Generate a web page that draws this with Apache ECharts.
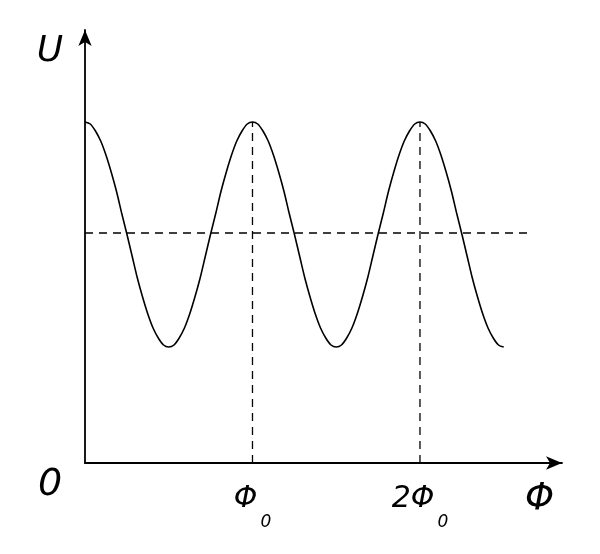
<!DOCTYPE html>
<html>
<head>
<meta charset="utf-8">
<script src="https://cdn.jsdelivr.net/npm/echarts@6/dist/echarts.min.js"></script>
<style>
html,body{margin:0;padding:0;background:#fff;}
#c{width:600px;height:554px;}
</style>
</head>
<body>
<div id="c"></div>
<script>
// Flux (in units of Φ0) and voltage U (arbitrary units)
const phi = [0,0.03125,0.0625,0.09375,0.125,0.15625,0.1875,0.21875,0.25,0.28125,0.3125,0.34375,0.375,0.40625,0.4375,0.46875,
  0.5,0.53125,0.5625,0.59375,0.625,0.65625,0.6875,0.71875,0.75,0.78125,0.8125,0.84375,0.875,0.90625,0.9375,0.96875,
  1,1.03125,1.0625,1.09375,1.125,1.15625,1.1875,1.21875,1.25,1.28125,1.3125,1.34375,1.375,1.40625,1.4375,1.46875,
  1.5,1.53125,1.5625,1.59375,1.625,1.65625,1.6875,1.71875,1.75,1.78125,1.8125,1.84375,1.875,1.90625,1.9375,1.96875,
  2,2.03125,2.0625,2.09375,2.125,2.15625,2.1875,2.21875,2.25,2.28125,2.3125,2.34375,2.375,2.40625,2.4375,2.46875,2.5];
const u = [3.41,3.39,3.32,3.22,3.08,2.91,2.72,2.50,2.29,2.07,1.85,1.66,1.49,1.35,1.25,1.18,
  1.16,1.18,1.25,1.35,1.49,1.66,1.85,2.07,2.29,2.50,2.72,2.91,3.08,3.22,3.32,3.39,
  3.41,3.39,3.32,3.22,3.08,2.91,2.72,2.50,2.29,2.07,1.85,1.66,1.49,1.35,1.25,1.18,
  1.16,1.18,1.25,1.35,1.49,1.66,1.85,2.07,2.29,2.50,2.72,2.91,3.08,3.22,3.32,3.39,
  3.41,3.39,3.32,3.22,3.08,2.91,2.72,2.50,2.29,2.07,1.85,1.66,1.49,1.35,1.25,1.18,1.16];
// dashed guide: mean level
const meanLevel = 2.30;
const meanEnd = 2.64;
// dashed guides at the peaks
const peakPhi = [1, 2];
const peakU = 3.41;
const tickLabels = {1: '{a|Φ}{b|0}', 2: '{a|2Φ}{b|0}'};

const curve = phi.map((x, i) => [x, u[i]]);
const FONT = 'DejaVu Sans';
const series = [
  {type:'line', data: curve, smooth: 0.3, symbol:'none', lineStyle:{color:'#000', width:1.6}, z:3},
  {type:'line', data: [[0, meanLevel],[meanEnd, meanLevel]], symbol:'none', lineStyle:{color:'#000', width:1.3, type:[8,6]}}
];
peakPhi.forEach(p => series.push({type:'line', data:[[p,0],[p,peakU]], symbol:'none', lineStyle:{color:'#000', width:1.3, type:[8,6]}}));

const chart = echarts.init(document.getElementById('c'));
chart.setOption({
  animation:false,
  backgroundColor:'#fff',
  grid:{left:85, top:30, width:477, height:433},
  xAxis:{type:'value', min:0, max:2.848, interval:1,
    axisLine:{show:true, lineStyle:{color:'#000', width:1.8}, symbol:['none','arrow'], symbolSize:[10,16]},
    axisTick:{show:false}, splitLine:{show:false},
    axisLabel:{margin:21, formatter: v => tickLabels[v] || '',
      rich:{
        a:{fontFamily:FONT, fontStyle:'italic', fontSize:30, color:'#000', verticalAlign:'top'},
        b:{fontFamily:FONT, fontStyle:'italic', fontSize:17, color:'#000', verticalAlign:'top', padding:[30,0,0,3]}
      }},
    name:'Φ', nameLocation:'end', nameGap:-37,
    nameTextStyle:{fontFamily:FONT, fontStyle:'italic', fontSize:37, color:'#000', verticalAlign:'top', padding:[18,0,0,0]}
  },
  yAxis:{type:'value', min:0, max:4.33,
    axisLine:{show:true, lineStyle:{color:'#000', width:1.8}, symbol:['none','arrow'], symbolSize:[10,16]},
    axisTick:{show:false}, splitLine:{show:false}, axisLabel:{show:false},
    name:'U', nameLocation:'end', nameGap:0,
    nameTextStyle:{fontFamily:FONT, fontStyle:'italic', fontSize:36, color:'#000', align:'right', verticalAlign:'top', padding:[4,22,0,0]}
  },
  graphic:[{type:'text', left:38, top:466, style:{text:'0', font:'italic 38px "DejaVu Sans"', fill:'#000'}}],
  series: series
});
</script>
</body>
</html>
